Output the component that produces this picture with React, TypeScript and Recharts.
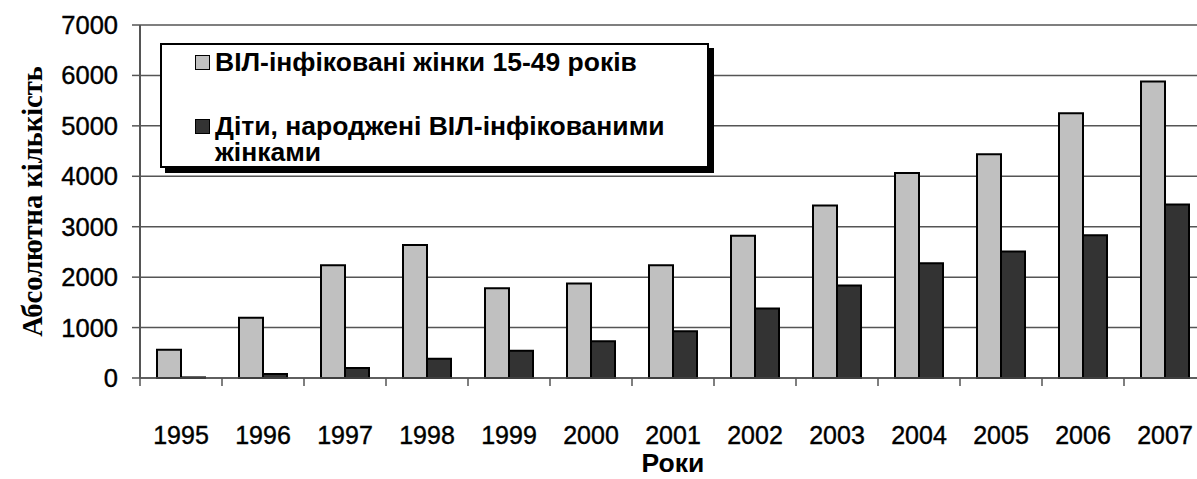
import { BarChart, Bar, XAxis, YAxis, CartesianGrid, Legend } from "recharts";

const years = ["1995", "1996", "1997", "1998", "1999", "2000", "2001", "2002", "2003", "2004", "2005", "2006", "2007"];
const infectedWomen = [560, 1195, 2235, 2635, 1780, 1875, 2235, 2820, 3420, 4065, 4435, 5250, 5880];
const childrenBorn = [12, 80, 200, 380, 540, 728, 925, 1377, 1835, 2275, 2510, 2830, 3440];
const yTicks = [0, 1000, 2000, 3000, 4000, 5000, 6000, 7000];

const series = [
  { key: "women", name: "ВІЛ-інфіковані жінки 15-49 років", color: "#c0c0c0" },
  { key: "children", name: "Діти, народжені ВІЛ-інфікованими жінками", color: "#333333" },
];

const data = years.map((year, i) => ({
  year,
  women: infectedWomen[i],
  children: childrenBorn[i],
}));

const sans = "'Liberation Sans', Arial, sans-serif";
const serif = "'Liberation Serif', 'Times New Roman', serif";

// tick text sits tickSize + tickMargin below the axis line
const TICK_SIZE = 8;
const TICK_MARGIN = 40;

function YearTick({ x, y, payload }: any) {
  const half = payload?.offset || 41;
  const axisY = y - TICK_SIZE - TICK_MARGIN;
  return (
    <g>
      <line x1={x - half} x2={x - half} y1={axisY} y2={axisY + TICK_SIZE} stroke="#555" strokeWidth={1.5} />
      <text
        x={x}
        y={y}
        dy="0.71em"
        textAnchor="middle"
        fontSize={25}
        fontFamily={sans}
        fill="#000"
        stroke="#000"
        strokeWidth={0.4}
      >
        {payload.value}
      </text>
    </g>
  );
}

function LegendBox() {
  return (
    <div
      style={{
        width: 549,
        height: 125,
        boxSizing: "border-box",
        border: "2px solid #000",
        boxShadow: "5px 5px 0 #000",
        background: "#fff",
        padding: "4px 0 0 33px",
        fontFamily: sans,
        fontWeight: "bold",
        fontSize: 26.5,
        lineHeight: "26px",
        color: "#000",
      }}
    >
      {series.map((s, i) => (
        <div key={s.key} style={{ display: "flex", alignItems: "flex-start", marginBottom: i === 0 ? 38 : 0 }}>
          <span
            style={{
              width: 15,
              height: 15,
              marginTop: 6,
              marginRight: 5,
              flex: "none",
              boxSizing: "border-box",
              background: s.color,
              border: "1px solid #000",
            }}
          />
          <span style={{ width: 490 }}>{s.name}</span>
        </div>
      ))}
    </div>
  );
}

export default function App() {
  return (
    <div style={{ position: "absolute", left: 0, top: 0, width: 1197, height: 479, overflow: "hidden", background: "#fff" }}>
      <BarChart
        width={1210}
        height={479}
        data={data}
        margin={{ top: 25, right: 4, left: 0, bottom: 0 }}
        barGap={0}
        barSize={24}
      >
        <CartesianGrid vertical={false} stroke="#555" strokeWidth={1.5} />
        <XAxis
          dataKey="year"
          height={101}
          axisLine={{ stroke: "#555", strokeWidth: 1.5 }}
          tickLine={false}
          tickSize={TICK_SIZE}
          tickMargin={TICK_MARGIN}
          interval={0}
          tick={<YearTick />}
          label={{
            value: "Роки",
            position: "insideBottom",
            offset: 7,
            style: { fontFamily: sans, fontSize: 26.5, fontWeight: "bold", fill: "#000" },
          }}
        />
        <YAxis
          width={140}
          domain={[0, 7000]}
          ticks={yTicks}
          interval={0}
          axisLine={{ stroke: "#555", strokeWidth: 2 }}
          tickLine={{ stroke: "#555", strokeWidth: 1.5 }}
          tickSize={8}
          tickMargin={14}
          tick={{ fontFamily: sans, fontSize: 25.5, fill: "#000", stroke: "#000", strokeWidth: 0.4 }}
          label={{
            content: ({ viewBox }: any) => {
              const cy = viewBox.y + viewBox.height / 2;
              return (
                <text
                  x={32}
                  y={cy}
                  transform={`rotate(-90 32 ${cy})`}
                  textAnchor="middle"
                  dominantBaseline="central"
                  fontFamily={serif}
                  fontWeight="bold"
                  fontSize={28.5}
                  fill="#000"
                >
                  Абсолютна кількість
                </text>
              );
            },
          }}
        />
        <Legend
          layout="vertical"
          align="center"
          verticalAlign="middle"
          content={<LegendBox />}
          wrapperStyle={{ left: 160, top: 43, width: 549 }}
        />
        {series.map((s) => (
          <Bar
            key={s.key}
            dataKey={s.key}
            name={s.name}
            fill={s.color}
            stroke="#000"
            strokeWidth={2}
            isAnimationActive={false}
          />
        ))}
      </BarChart>
    </div>
  );
}
